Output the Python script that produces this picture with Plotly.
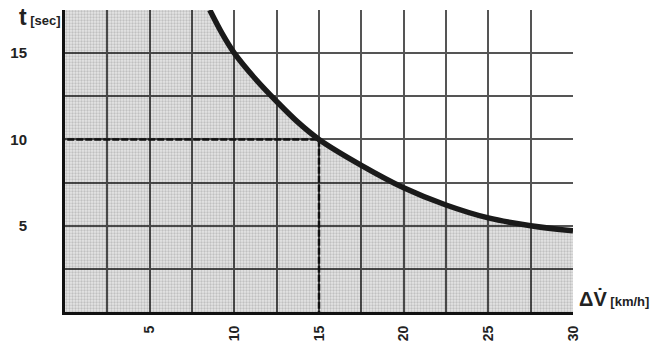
import plotly.graph_objects as go

# Values
dv_kmh = [8.55, 9.3, 10, 11.25, 12.5, 13.75, 15, 17.5, 20, 22.5, 25, 27.5, 30]
t_sec = [17.5, 16.1, 15.0, 13.5, 12.2, 11.0, 10.0, 8.5, 7.2, 6.2, 5.45, 5.0, 4.7]
x_ticks = [5, 10, 15, 20, 25, 30]
y_ticks = [5, 10, 15]
ref_v, ref_t = 15, 10
x_max, y_max = 30, 17.5

FONT = "Liberation Sans"

fig = go.Figure()

# shaded region under the curve (halftone look, translucent so the grid shows)
fig.add_trace(go.Scatter(
    x=[0] + dv_kmh, y=[y_max] + t_sec,
    mode="lines", line=dict(width=0), fill="tozeroy",
    fillcolor="rgba(0,0,0,0.18)",
    fillpattern=dict(shape=".", bgcolor="rgba(0,0,0,0.10)",
                     fgcolor="rgba(0,0,0,0.32)", size=3, solidity=0.45),
    hoverinfo="skip", showlegend=False,
))
# reference dashed lines
fig.add_trace(go.Scatter(
    x=[-0.4, ref_v, ref_v], y=[ref_t, ref_t, -0.45],
    mode="lines", line=dict(color="#111", width=2.5, dash="7px,2px"),
    cliponaxis=False, showlegend=False,
))
# the curve
fig.add_trace(go.Scatter(
    x=dv_kmh, y=t_sec, mode="lines",
    line=dict(color="#1a1a1a", width=5.5, shape="spline", smoothing=1.0),
    showlegend=False,
))

grid = "#555555"
fig.update_xaxes(
    range=[0, x_max], tickvals=x_ticks, ticktext=[f"<b>{v}</b>" for v in x_ticks],
    tickangle=-90, showgrid=True, gridcolor=grid, gridwidth=1.5,
    minor=dict(dtick=2.5, tick0=0, showgrid=True, gridcolor=grid, gridwidth=1.5),
    showline=True, linecolor="#111", linewidth=3, zeroline=False,
    tickfont=dict(family=FONT, size=14, color="#222"), ticklabelstandoff=5,
)
fig.update_yaxes(
    range=[0, y_max], tickvals=y_ticks, ticktext=[f"<b>{v}</b>" for v in y_ticks],
    showgrid=True, gridcolor=grid, gridwidth=1.5,
    minor=dict(dtick=2.5, tick0=0, showgrid=True, gridcolor=grid, gridwidth=1.5),
    showline=True, linecolor="#111", linewidth=3, zeroline=False,
    tickfont=dict(family=FONT, size=15, color="#222"), ticklabelstandoff=32,
)

fig.add_annotation(
    xref="paper", yref="paper", x=-0.095, y=1.028, xanchor="left", yanchor="top",
    text="<b><span style='font-size:23px'>t</span> [sec]</b>",
    showarrow=False, font=dict(family=FONT, size=13, color="#222"),
)
fig.add_annotation(
    xref="paper", yref="paper", x=1.008, y=0.0, xanchor="left", yanchor="bottom",
    text="<b><span style='font-size:20px'>\u0394V\u0307</span> [km/h]</b>",
    showarrow=False, font=dict(family=FONT, size=13, color="#222"),
)

fig.update_layout(
    width=655, height=351,
    margin=dict(l=57, r=82, t=10, b=39),
    paper_bgcolor="white", plot_bgcolor="white",
)

fig.write_html("out.html")
